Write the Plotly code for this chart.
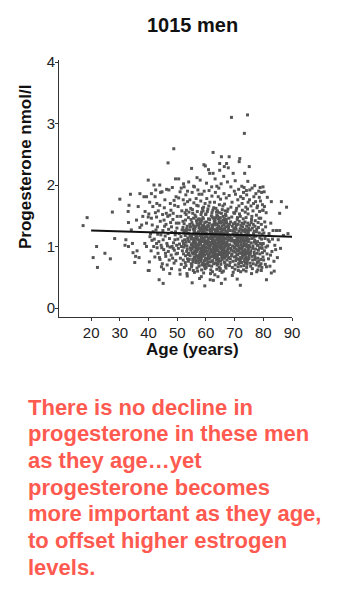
import plotly.graph_objects as go

# ---------------- data (read/estimated from the reference) ----------------
pts_under30 = [(17.2,1.34),(18.6,1.47),(20.7,0.82),(21.9,1.00),(22.2,0.66),(24.8,0.89),(26.7,0.80),(27.4,1.56),(28.2,1.13)]

pts_30s = [(30.0,1.77),(32.1,1.11),(33.0,1.00),(33.0,1.39),(33.2,1.67),(33.7,1.85),(34.4,1.05),(34.6,0.90),(35.5,0.84),(35.2,0.74),
           (35.8,1.43),(36.4,1.65),(36.7,0.82),(37.0,1.86),(37.0,1.31),(37.6,1.35),(38.4,1.81),(38.7,1.05),(38.8,1.57),(39.3,1.00),
           (39.3,1.81),(39.3,1.38),(39.9,2.08),(39.9,1.48),(39.9,0.61),(32.9,1.57),(36.0,0.93),(31.8,1.02),(38.0,1.49),(34.0,1.27)]

pts_40s = [(40.1,1.53),(40.2,0.61),(40.3,0.75),(40.7,1.21),(41.0,1.46),(41.0,1.86),(41.5,1.65),(41.6,1.24),(41.8,1.00),(41.9,2.00),
           (42.3,1.81),(42.5,1.92),(42.8,1.48),(42.8,1.05),(43.1,1.32),(43.3,0.89),(43.7,0.46),(43.9,2.00),(43.9,1.67),(44.3,1.19),
           (44.5,0.67),(44.7,1.89),(45.1,0.40),(45.1,1.11),(45.4,1.43),(45.7,1.76),(45.9,0.89),(46.2,1.54),(46.8,2.36),(46.8,1.21),
           (47.1,1.92),(47.2,0.78),(47.4,0.56),(47.6,1.70),(48.0,1.32),(48.2,1.00),(48.3,1.96),(48.6,1.54),(48.8,2.59),(48.9,0.73),
           (49.2,1.11),(49.4,2.10),(49.6,1.81),(49.7,1.38),(40.5,1.16),(40.9,0.93),(41.3,1.35),(42.0,1.12),(42.2,0.83),(42.6,1.27),
           (43.0,0.98),(43.4,1.58),(43.6,1.08),(44.0,0.79),(44.1,1.41),(44.4,1.02),(44.8,0.72),(45.0,1.26),(45.3,0.95),(45.5,1.63),
           (45.8,1.17),(46.0,0.84),(46.1,1.36),(46.4,1.05),(46.5,0.70),(46.7,1.49),(46.9,0.92),(47.0,1.28),(47.3,1.13),(47.5,0.99),
           (47.8,1.59),(47.9,0.86),(48.1,1.23),(48.4,0.81),(48.5,1.44),(48.7,1.06),(49.0,0.94),(49.1,1.67),(49.3,1.19),(49.5,0.77),
           (49.8,1.02),(49.9,1.30),(40.4,1.72),(41.2,1.10),(42.4,1.55),(43.2,1.20),(44.2,1.88),(44.6,0.98),(45.6,1.33),(46.3,1.93),
           (47.7,1.39),(48.0,0.64),(48.9,1.75),(49.6,0.88),(43.8,0.82),(45.2,0.63),(46.6,1.01),(47.4,1.51),(48.6,0.97),(49.4,1.24),
           (42.9,1.70),(44.9,1.52)]

pts_50s = [(50.1,0.89),(50.3,1.65),(50.5,2.10),(50.7,1.21),(50.9,0.62),(50.2,1.12),(50.4,0.97),(50.6,1.38),(50.8,1.04),(50.0,1.49),
           (51.0,1.89),(51.2,1.49),(51.5,1.00),(51.7,1.27),(51.1,0.81),(51.3,1.16),(51.4,0.71),(51.6,1.58),(51.8,0.93),(51.9,1.09),
           (52.1,1.76),(52.1,0.78),(52.4,1.97),(52.6,1.11),(52.9,1.43),(52.0,1.31),(52.2,0.88),(52.3,1.22),(52.5,0.66),(52.7,1.02),
           (52.8,1.18),(52.9,0.85),(52.6,1.69),(52.3,0.99),(52.0,1.41),(52.5,1.26),(52.2,1.05),(52.8,0.74),(52.4,1.37),(52.7,1.55),
           (53.2,1.59),(53.4,0.56),(53.8,1.21),(53.1,1.07),(53.3,0.92),(53.5,1.33),(53.6,0.80),(53.7,1.14),(53.9,1.47),(53.0,0.69),
           (53.2,1.25),(53.4,1.01),(53.6,1.73),(53.8,0.87),(53.1,1.52),(53.5,0.96),(53.7,1.11),(53.9,0.76),(53.3,1.29),(53.0,1.84),
           (54.0,2.05),(54.1,0.89),(54.4,1.76),(54.6,1.32),(54.2,1.08),(54.3,0.63),(54.5,1.17),(54.7,0.94),(54.8,1.44),(54.9,1.03),
           (54.0,1.21),(54.2,0.79),(54.4,1.36),(54.6,0.98),(54.8,1.13),(54.1,1.56),(54.3,1.27),(54.5,0.85),(54.7,1.62),(54.9,0.72),
           (55.0,2.27),(55.0,0.67),(55.2,0.41),(55.4,1.54),(55.5,1.00),(55.1,1.19),(55.3,0.90),(55.6,1.28),(55.7,1.07),(55.9,0.83),
           (55.1,1.39),(55.3,1.12),(55.5,0.75),(55.7,1.46),(55.9,1.23),(55.2,0.96),(55.4,1.05),(55.6,0.61),(55.8,1.71),(55.0,1.15),
           (55.2,1.88),(55.6,0.88),(55.8,1.31),(55.4,0.79),(55.9,0.99),(55.3,1.60),(55.7,1.20),(55.1,0.70),(55.5,1.35),(55.8,1.09),
           (56.0,1.26),(56.1,0.93),(56.2,1.51),(56.3,1.04),(56.4,0.78),(56.5,1.17),(56.6,0.86),(56.7,1.42),(56.8,1.12),(56.9,0.65),
           (56.0,1.97),(56.2,1.08),(56.4,1.33),(56.6,0.97),(56.8,1.67),(56.1,0.82),(56.3,1.22),(56.5,0.74),(56.7,1.01),(56.9,1.38),
           (56.1,1.13),(56.3,0.89),(56.5,1.48),(56.7,1.19),(56.9,0.92),(56.0,0.58),(56.2,1.29),(56.4,1.06),(56.6,1.78),(56.8,0.84),
           (57.0,1.15),(57.1,0.95),(57.2,1.36),(57.3,0.77),(57.4,1.24),(57.5,1.03),(57.6,0.68),(57.7,1.45),(57.8,1.10),(57.9,0.88),
           (57.0,1.57),(57.2,0.82),(57.4,1.02),(57.6,1.30),(57.8,0.97),(57.1,1.21),(57.3,1.66),(57.5,0.73),(57.7,1.07),(57.9,1.40),
           (57.1,0.60),(57.3,1.11),(57.5,1.34),(57.7,0.86),(57.9,1.18),(57.0,0.99),(57.2,1.92),(57.4,1.44),(57.6,1.05),(57.8,0.79),
           (58.0,1.27),(58.1,0.91),(58.2,1.09),(58.3,1.52),(58.4,0.80),(58.5,1.16),(58.6,0.70),(58.7,1.33),(58.8,1.01),(58.9,0.94),
           (58.0,2.08),(58.2,1.20),(58.4,1.41),(58.6,0.87),(58.8,1.62),(58.1,1.04),(58.3,0.76),(58.5,1.25),(58.7,0.98),(58.9,1.13),
           (58.1,1.37),(58.3,0.95),(58.5,0.62),(58.7,1.08),(58.9,1.47),(58.0,0.83),(58.2,1.74),(58.4,1.14),(58.6,1.00),(58.8,1.23),
           (58.4,0.51),(58.6,1.85),(58.8,0.90),(58.2,1.30),(58.0,1.06),(58.9,0.73),(58.5,1.56),(58.3,1.17),(58.7,0.84),(58.1,1.43),
           (59.0,1.19),(59.1,0.88),(59.2,1.35),(59.3,2.33),(59.4,1.02),(59.5,0.77),(59.6,0.36),(59.7,1.28),(59.8,2.31),(59.9,0.97),
           (59.0,1.58),(59.2,0.93),(59.4,1.24),(59.6,1.09),(59.8,0.81),(59.1,1.45),(59.3,1.11),(59.5,0.68),(59.7,1.70),(59.9,1.05),
           (59.1,1.00),(59.3,0.72),(59.5,1.32),(59.7,0.91),(59.9,1.21),(59.0,0.85),(59.2,1.64),(59.4,1.14),(59.6,1.39),(59.8,0.99),
           (59.2,0.57),(59.4,1.90),(59.6,0.86),(59.8,1.16),(59.0,1.29),(59.3,0.95),(59.5,1.07),(59.7,0.64),(59.9,1.52),(59.1,1.23),
           (50.5,1.79),(51.4,1.95),(52.2,2.02),(53.6,1.90),(55.7,1.98),(56.9,2.12),(57.6,1.85),(51.0,0.55),(53.5,0.52),(57.8,0.48)]

pts_60s = [(60.0,1.18),(60.1,0.92),(60.2,1.40),(60.3,1.05),(60.4,0.79),(60.5,1.27),(60.6,0.98),(60.7,1.61),(60.8,1.12),(60.9,0.85),
           (60.0,1.53),(60.2,0.71),(60.4,1.16),(60.6,1.34),(60.8,0.93),(60.1,1.22),(60.3,1.78),(60.5,0.88),(60.7,1.03),(60.9,1.45),
           (60.1,0.66),(60.3,1.09),(60.5,1.57),(60.7,0.81),(60.9,1.20),(60.0,0.99),(60.2,2.03),(60.4,1.31),(60.6,0.74),(60.8,1.08),
           (61.0,1.14),(61.1,0.86),(61.2,1.38),(61.3,2.19),(61.4,1.01),(61.5,0.75),(61.6,0.56),(61.7,1.24),(61.8,0.95),(61.9,1.50),
           (61.0,1.66),(61.2,1.07),(61.4,0.89),(61.6,1.29),(61.8,1.13),(61.1,0.69),(61.3,1.44),(61.5,1.02),(61.7,0.83),(61.9,1.19),
           (61.1,1.91),(61.3,0.97),(61.5,1.25),(61.7,0.62),(61.9,1.06),(61.0,1.33),(61.2,0.80),(61.4,1.72),(61.6,1.15),(61.8,0.91),
           (62.0,1.23),(62.1,0.94),(62.2,1.48),(62.3,1.04),(62.4,0.77),(62.5,2.53),(62.5,2.19),(62.6,1.17),(62.7,0.87),(62.8,1.36),
           (62.9,1.00),(62.0,0.68),(62.2,1.12),(62.4,1.59),(62.6,0.90),(62.8,1.28),(62.1,1.82),(62.3,1.09),(62.7,0.72),(62.9,1.41),
           (62.0,1.97),(62.2,0.84),(62.4,1.21),(62.6,1.05),(62.8,0.96),(62.1,1.35),(62.3,0.59),(62.5,1.14),(62.7,1.63),(62.9,0.82),
           (62.3,1.31),(62.7,1.18),(62.5,0.99),(62.1,1.55),(62.9,1.10),(62.4,0.86),(62.6,1.46),(62.2,0.76),(62.8,1.07),(62.0,1.26),
           (63.0,1.16),(63.1,0.89),(63.2,1.43),(63.3,1.03),(63.4,0.73),(63.5,1.27),(63.6,0.94),(63.7,1.56),(63.8,1.11),(63.9,0.81),
           (63.0,1.72),(63.2,0.97),(63.4,1.19),(63.6,1.37),(63.8,0.63),(63.1,1.08),(63.3,1.88),(63.5,0.85),(63.7,1.00),(63.9,1.30),
           (63.1,0.54),(63.3,1.24),(63.5,1.62),(63.7,0.78),(63.9,1.14),(63.0,0.92),(63.2,2.10),(63.4,1.47),(63.6,1.05),(63.8,1.21),
           (63.2,1.35),(63.6,0.88),(63.4,1.01),(63.8,1.51),(63.0,1.09),(63.9,0.70),(63.5,1.18),(63.1,1.40),(63.7,0.96),(63.3,0.82),
           (64.0,1.20),(64.1,0.93),(64.2,0.51),(64.3,1.06),(64.4,1.45),(64.5,0.80),(64.6,1.13),(64.7,1.68),(64.8,2.24),(64.8,2.35),
           (64.9,0.98),(64.0,1.58),(64.2,1.27),(64.4,0.87),(64.6,1.39),(64.8,1.03),(64.1,0.72),(64.3,1.81),(64.5,1.16),(64.7,0.91),
           (64.0,0.85),(64.2,1.10),(64.4,1.33),(64.6,0.66),(64.8,1.22),(64.1,1.49),(64.3,0.99),(64.5,1.95),(64.7,1.07),(64.9,1.29),
           (64.3,0.76),(64.7,1.42),(64.5,1.04),(64.9,0.61),(64.1,1.25),(64.6,1.55),(64.2,0.94),(64.8,1.17),(64.0,1.36),(64.4,1.12),
           (65.0,1.15),(65.1,0.90),(65.2,1.38),(65.3,1.02),(65.4,0.40),(65.4,2.46),(65.5,1.26),(65.6,0.79),(65.7,1.60),(65.8,1.08),
           (65.9,0.86),(65.0,1.47),(65.2,0.71),(65.4,1.19),(65.6,1.33),(65.8,0.95),(65.1,1.77),(65.3,1.11),(65.5,0.83),(65.7,1.00),
           (65.0,0.64),(65.2,1.23),(65.4,1.54),(65.6,1.05),(65.8,0.92),(65.1,1.30),(65.3,2.02),(65.5,0.97),(65.7,1.14),(65.9,1.43),
           (65.2,1.09),(65.6,0.58),(65.8,1.28),(65.4,0.87),(65.0,1.01),(65.9,1.66),(65.5,1.40),(65.1,0.76),(65.7,1.21),(65.3,0.96),
           (66.0,1.17),(66.1,0.89),(66.2,1.35),(66.3,1.04),(66.4,0.75),(66.5,1.29),(66.6,0.99),(66.7,1.58),(66.8,1.12),(66.9,0.84),
           (66.0,1.49),(66.2,0.94),(66.4,1.20),(66.6,1.41),(66.8,0.68),(66.1,1.08),(66.3,1.86),(66.5,0.81),(66.7,1.03),(66.9,1.32),
           (66.1,0.60),(66.3,1.14),(66.5,1.69),(66.7,0.91),(66.9,1.25),(66.0,0.97),(66.2,2.14),(66.4,1.37),(66.6,1.06),(66.8,1.19),
           (66.4,0.83),(66.8,1.52),(66.2,1.10),(66.6,0.73),(66.0,1.27),(66.9,1.01),(66.5,1.45),(66.1,1.22),(66.7,0.88),(66.3,0.96),
           (67.0,1.13),(67.1,0.92),(67.2,2.35),(67.2,1.39),(67.3,1.05),(67.4,0.78),(67.5,1.24),(67.6,0.95),(67.7,1.61),(67.8,1.10),
           (67.9,0.82),(67.0,1.50),(67.2,0.70),(67.4,1.18),(67.6,1.34),(67.8,0.98),(67.1,1.79),(67.3,1.07),(67.5,0.86),(67.7,1.02),
           (67.0,0.65),(67.2,1.21),(67.4,1.57),(67.6,0.89),(67.8,1.28),(67.1,1.44),(67.3,0.93),(67.5,2.05),(67.7,1.15),(67.9,1.31),
           (68.0,1.19),(68.1,0.90),(68.1,2.46),(68.2,1.36),(68.3,1.03),(68.4,0.74),(68.5,1.26),(68.6,0.97),(68.7,1.64),(68.8,1.09),
           (68.9,3.10),(68.9,0.85),(68.0,1.46),(68.2,0.69),(68.4,1.16),(68.6,1.40),(68.8,0.94),(68.1,1.83),(68.3,1.12),(68.5,0.80),
           (69.0,1.14),(69.1,0.88),(69.2,1.33),(69.3,1.01),(69.4,0.76),(69.5,2.19),(69.5,1.25),(69.6,0.93),(69.7,1.55),(69.8,1.07),
           (69.9,0.83),(69.0,1.48),(69.2,0.66),(69.4,1.20),(69.6,1.37),(69.8,0.98),(69.1,1.72),(69.3,1.10),(69.5,0.58),(69.7,1.29),
           (68.7,1.97),(69.9,1.90),(60.9,2.25),(63.8,1.98),(66.4,2.30),(67.8,2.28),(61.5,0.46),(66.7,0.47),(69.2,0.53),(62.6,0.45)]

pts_70s = [(70.0,1.17),(70.1,0.91),(70.2,1.39),(70.3,1.04),(70.4,0.77),(70.5,1.28),(70.6,0.96),(70.7,1.62),(70.8,1.11),(70.9,0.47),
           (70.0,1.54),(70.2,0.70),(70.4,1.19),(70.6,1.35),(70.8,0.88),(70.1,1.23),(70.3,1.85),(70.5,0.84),(70.7,1.02),(70.9,1.44),
           (70.1,0.63),(70.3,1.10),(70.5,1.58),(70.7,0.80),(70.9,1.21),(70.0,0.99),(70.2,2.07),(70.4,1.31),(70.6,1.06),(70.8,1.16),
           (71.0,1.13),(71.1,0.87),(71.2,1.36),(71.3,1.01),(71.4,0.72),(71.5,1.25),(71.6,2.38),(71.6,0.94),(71.7,1.53),(71.8,2.43),
           (71.8,1.08),(71.9,0.82),(71.0,1.47),(71.2,0.67),(71.4,1.18),(71.6,1.41),(71.8,0.90),(71.1,1.76),(71.3,1.09),(71.5,0.79),
           (71.9,1.29),(71.7,0.98),(71.5,1.66),(71.3,0.61),(71.1,1.20),(71.0,0.93),(71.2,1.05),(71.4,1.93),(71.6,1.14),(71.8,0.75),
           (72.0,0.37),(72.0,1.16),(72.1,0.89),(72.2,1.34),(72.3,1.03),(72.4,0.74),(72.5,1.27),(72.6,0.96),(72.7,1.59),(72.8,1.10),
           (72.9,0.85),(72.0,1.49),(72.2,0.68),(72.4,1.17),(72.6,1.38),(72.8,0.92),(72.1,1.81),(72.3,1.07),(72.5,0.81),(72.7,1.00),
           (72.1,0.59),(72.3,1.22),(72.5,1.98),(72.7,0.86),(72.9,1.26),(72.2,1.12),(72.4,0.97),(72.6,1.70),(72.8,1.32),(72.0,0.78),
           (73.0,1.15),(73.1,0.90),(73.2,1.37),(73.3,1.02),(73.4,2.84),(73.4,0.76),(73.5,2.19),(73.5,1.24),(73.6,0.95),(73.7,1.56),
           (73.8,1.09),(73.9,0.83),(73.0,1.45),(73.2,0.69),(73.4,1.18),(73.6,1.40),(73.8,0.91),(73.1,1.88),(73.3,1.06),(73.5,0.80),
           (73.7,1.28),(73.9,1.64),(73.1,0.62),(73.3,1.96),(73.5,1.01),(73.7,0.73),(73.9,1.19),(73.0,1.78),(73.2,1.11),(73.6,0.87),
           (74.0,1.14),(74.1,0.88),(74.2,1.33),(74.3,1.00),(74.4,0.75),(74.5,3.14),(74.5,1.26),(74.6,0.94),(74.7,1.53),(74.8,1.08),
           (74.9,0.82),(74.0,1.47),(74.2,0.66),(74.4,1.21),(74.6,1.38),(74.8,0.97),(74.1,1.91),(74.3,1.12),(74.5,0.79),(74.7,1.72),
           (74.9,1.30),(74.1,1.04),(74.3,0.71),(74.5,1.61),(74.7,0.90),(74.0,0.60),(74.2,1.84),(74.4,1.15),(74.6,2.06),(74.8,1.23),
           (75.0,1.12),(75.1,2.30),(75.1,0.86),(75.2,1.35),(75.3,0.99),(75.4,0.73),(75.5,1.27),(75.6,0.93),(75.7,1.66),(75.8,1.06),
           (75.9,0.56),(75.9,1.44),(75.0,0.80),(75.2,1.76),(75.4,1.18),(75.6,0.68),(75.8,1.39),(75.1,1.02),(75.3,1.92),(75.5,0.89),
           (76.0,1.13),(76.1,0.84),(76.2,1.30),(76.3,0.97),(76.4,1.58),(76.5,0.72),(76.6,1.21),(76.7,1.81),(76.8,0.91),(76.9,1.07),
           (76.0,1.49),(76.2,0.64),(76.4,1.01),(76.6,1.70),(76.8,1.25),(76.1,1.95),(76.3,0.78),(76.5,1.36),(76.7,1.15),(76.9,0.87),
           (77.0,1.10),(77.1,0.83),(77.2,1.42),(77.3,0.96),(77.4,1.86),(77.5,0.70),(77.6,1.24),(77.7,0.59),(77.8,1.63),(77.9,1.02),
           (77.0,1.99),(77.2,0.79),(77.4,1.17),(77.6,1.51),(77.8,0.89),(77.1,1.33),(77.3,1.73),(77.5,1.05),(77.7,1.28),(77.9,0.74),
           (78.0,1.08),(78.1,0.81),(78.2,1.39),(78.3,0.94),(78.4,1.90),(78.5,0.68),(78.6,1.22),(78.7,1.57),(78.8,0.88),(78.9,1.96),
           (78.0,1.66),(78.2,1.02),(78.4,0.76),(78.6,1.80),(78.8,1.14),(78.1,0.62),(78.3,1.31),(78.5,1.46),(78.7,0.98),(78.9,0.70),
           (79.0,1.05),(79.1,0.79),(79.3,1.36),(79.4,1.88),(79.5,0.66),(79.6,1.20),(79.7,0.90),(79.8,1.59),(79.9,1.97),(79.9,0.83),
           (79.0,1.74),(79.2,0.72),(79.4,1.12),(79.6,0.97),(79.8,1.27),(79.1,1.46),(79.3,0.61),(79.5,1.02),(79.7,1.68),(79.9,1.59)]

pts_80s = [(80.3,1.89),(80.5,1.40),(81.1,0.67),(81.1,0.46),(81.7,1.11),(82.0,1.21),(82.5,0.86),(82.8,1.73),(82.8,0.57),(83.4,1.26),
           (84.3,0.95),(84.6,1.26),(85.7,1.26),(85.7,1.54),(86.3,1.73),(88.1,1.64),(88.6,1.21),(80.0,1.05),(80.1,0.78),(80.2,1.22),
           (80.4,0.93),(80.6,1.13),(80.7,0.71),(80.8,1.32),(80.9,0.99),(81.0,1.55),(81.3,0.88),(81.5,1.01),(81.8,0.80),(82.1,1.08),
           (82.3,0.68),(82.6,1.38),(83.0,0.92),(83.2,1.12),(83.7,0.76),(84.0,1.02),(84.9,0.82),(85.2,1.11),(86.0,0.97),(87.0,1.18),
           (80.4,1.65),(81.4,1.80),(83.8,0.60)]

# regression line end points
fit_age = [20, 90]
fit_prog = [1.26, 1.16]

x_ticks = [20, 30, 40, 50, 60, 70, 80, 90]
y_ticks = [0, 1, 2, 3, 4]

title_text = "1015 men"
x_title = "Age (years)"
y_title = "Progesterone nmol/l"
note_lines = ["There is no decline in",
              "progesterone in these men",
              "as they age\u2026yet",
              "progesterone becomes",
              "more important as they age,",
              "to offset higher estrogen",
              "levels."]

# ---------------- figure ----------------
all_pts = pts_under30 + pts_30s + pts_40s + pts_50s + pts_60s + pts_70s + pts_80s
ages = [p[0] for p in all_pts]
progs = [p[1] for p in all_pts]

W, H = 354, 592
ML, MR, MT, MB = 59, 62, 60, 275
PW, PH = W - ML - MR, H - MT - MB

def px2x(px):
    return (px - ML) / PW

def py2y(py):
    return (MT + PH - py) / PH

FONT = "Liberation Sans, Arial, sans-serif"

fig = go.Figure()
fig.add_trace(go.Scatter(x=ages, y=progs, mode="markers",
                         marker=dict(symbol="square", size=3, color="#555555", line=dict(width=0)),
                         showlegend=False, hoverinfo="skip"))
fig.add_trace(go.Scatter(x=fit_age, y=fit_prog, mode="lines",
                         line=dict(color="#111111", width=2), showlegend=False, hoverinfo="skip"))

axis_common = dict(showgrid=False, zeroline=False, showline=True, linecolor="#333333", linewidth=1,
                   ticks="outside", ticklen=3, tickwidth=1, tickcolor="#333333",
                   tickfont=dict(family=FONT, size=15, color="#222222"))

fig.update_xaxes(range=[8.8, 90], tickvals=x_ticks, ticklabelstandoff=-1, **axis_common)
fig.update_yaxes(range=[-0.146, 4.033], tickvals=y_ticks, ticklabelstandoff=-3, **axis_common)

ann = []
ann.append(dict(text="<b>%s</b>" % title_text, x=px2x(192), y=py2y(25), xref="paper", yref="paper",
                showarrow=False, xanchor="center", yanchor="middle",
                font=dict(family=FONT, size=20, color="#111111")))
ann.append(dict(text="<b>%s</b>" % x_title, x=px2x(192.5), y=py2y(349), xref="paper", yref="paper",
                showarrow=False, xanchor="center", yanchor="middle",
                font=dict(family=FONT, size=17, color="#111111")))
ann.append(dict(text="<b>%s</b>" % y_title, x=px2x(25), y=py2y(167), xref="paper", yref="paper",
                showarrow=False, xanchor="center", yanchor="middle", textangle=-90,
                font=dict(family=FONT, size=17, color="#111111")))
for i, line in enumerate(note_lines):
    ann.append(dict(text="<b>%s</b>" % line, x=px2x(26), y=py2y(407 + 26.7 * i), xref="paper", yref="paper",
                    showarrow=False, xanchor="left", yanchor="middle",
                    font=dict(family=FONT, size=22, color="#ff5a50")))

fig.update_layout(width=W, height=H, margin=dict(l=ML, r=MR, t=MT, b=MB),
                  paper_bgcolor="white", plot_bgcolor="white", annotations=ann)

fig.write_html("out.html", include_plotlyjs=True, config={"displayModeBar": False})
